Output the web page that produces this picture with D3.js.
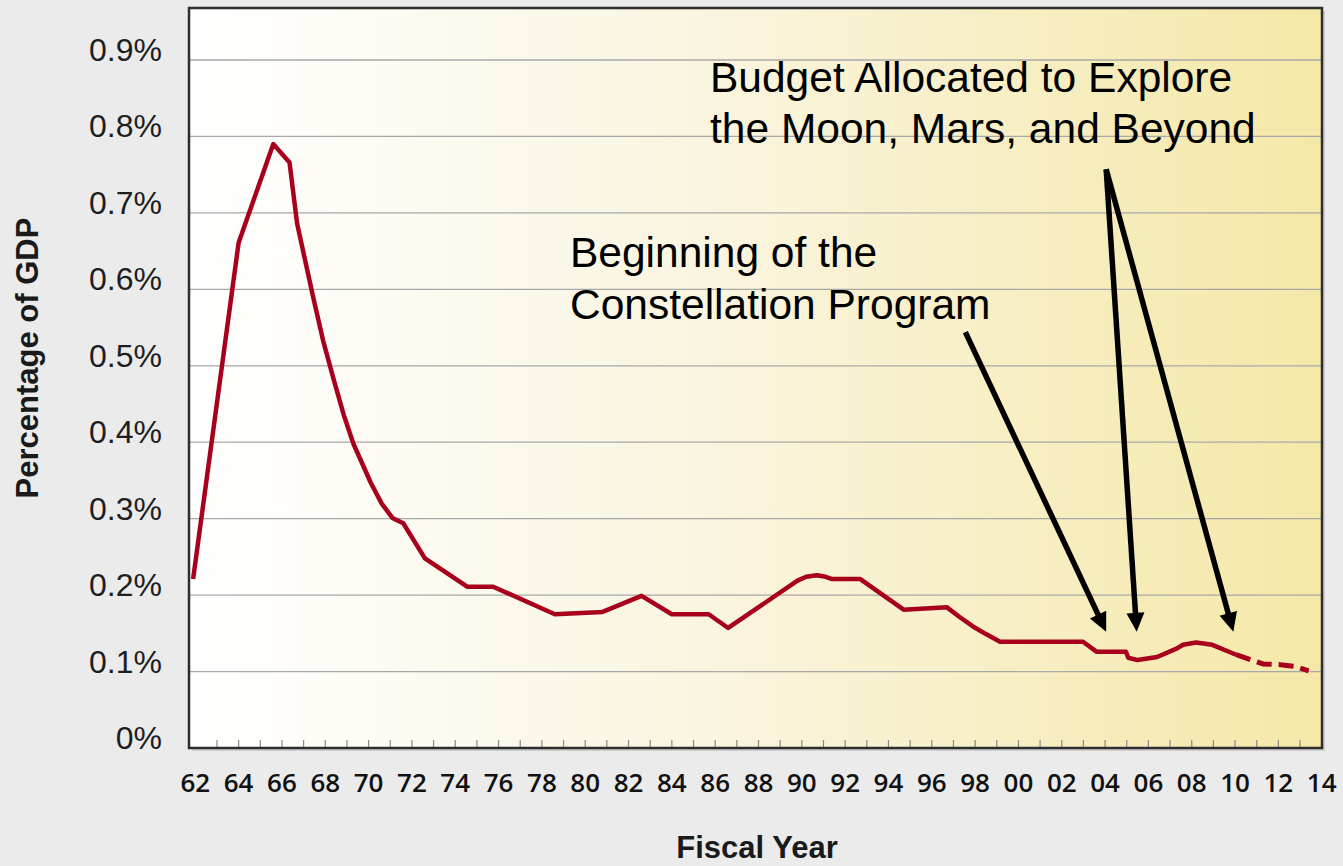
<!DOCTYPE html>
<html>
<head>
<meta charset="utf-8">
<script src="https://cdn.jsdelivr.net/npm/d3@7"></script>
<style>
  html, body { margin: 0; padding: 0; background: #ebebeb; }
  svg { display: block; }
</style>
</head>
<body>
<div id="chart"></div>
<script>
// fiscal years (fractional where the line bends between years) and % of GDP
var years = [1961.9, 1964.0, 1965.6, 1966.35, 1966.7, 1967.44, 1967.9, 1968.4, 1968.85, 1969.3,
  1970.1, 1970.6, 1971.1, 1971.6, 1972.6, 1974.55, 1975.75, 1978.6, 1980.8, 1982.6,
  1984.0, 1985.7, 1986.6, 1989.8, 1990.2, 1990.7, 1991.1, 1991.4, 1992.7, 1994.7,
  1996.7, 1997.3, 1997.9, 1998.5, 1999.15, 2002.98, 2003.6, 2004.96, 2005.07, 2005.5,
  2006.4, 2007.3, 2007.6, 2008.2, 2008.95, 2010.05];
var share = [0.221, 0.661, 0.790, 0.766, 0.686, 0.590, 0.533, 0.481, 0.436, 0.398,
  0.347, 0.320, 0.301, 0.294, 0.248, 0.211, 0.211, 0.175, 0.178, 0.199,
  0.175, 0.175, 0.157, 0.219, 0.224, 0.226, 0.224, 0.221, 0.221, 0.181,
  0.184, 0.171, 0.159, 0.149, 0.139, 0.139, 0.126, 0.126, 0.118, 0.115,
  0.119, 0.130, 0.135, 0.138, 0.135, 0.122];

// projected years, drawn dashed
var projYears = [2010.05, 2011.3, 2012.1, 2012.7, 2013.4];
var projShare = [0.122, 0.110, 0.109, 0.107, 0.101];

var yTicks = [0, 0.1, 0.2, 0.3, 0.4, 0.5, 0.6, 0.7, 0.8, 0.9];
var xLabelYears = d3.range(1962, 2015, 2);

// arrows: start and tip in data units
var arrows = [
  {x1: 1997.55, y1: 0.544, x2: 2004.05, y2: 0.152},
  {x1: 2004.05, y1: 0.757, x2: 2005.46, y2: 0.152},
  {x1: 2004.05, y1: 0.757, x2: 2009.92, y2: 0.152}
];

var width = 1343, height = 866;
var plotLeft = 189, plotRight = 1322, plotTop = 8, plotBottom = 748;

var x = d3.scaleLinear().domain([1962, 2014]).range([195.3, 1321.7]);
var y = d3.scaleLinear().domain([0, 0.9]).range([plotBottom, 60]);

var svg = d3.select('#chart').append('svg')
  .attr('width', width)
  .attr('height', height);

var grad = svg.append('defs').append('linearGradient')
  .attr('id', 'bg').attr('x1', '0%').attr('x2', '100%').attr('y1', '0%').attr('y2', '0%');
grad.append('stop').attr('offset', '0%').attr('stop-color', '#ffffff');
grad.append('stop').attr('offset', '45%').attr('stop-color', '#faf5e0');
grad.append('stop').attr('offset', '100%').attr('stop-color', '#f5e8a8');

// shadow + plot area
svg.append('rect')
  .attr('x', plotLeft + 3).attr('y', plotTop + 3)
  .attr('width', plotRight - plotLeft).attr('height', plotBottom - plotTop)
  .attr('fill', '#cfcfcf');
svg.append('rect')
  .attr('x', plotLeft).attr('y', plotTop)
  .attr('width', plotRight - plotLeft).attr('height', plotBottom - plotTop)
  .attr('fill', 'url(#bg)');

// gridlines
svg.append('g').selectAll('line')
  .data(yTicks.filter(function(d) { return d > 0; }))
  .enter().append('line')
  .attr('x1', plotLeft).attr('x2', plotRight)
  .attr('y1', function(d) { return y(d); })
  .attr('y2', function(d) { return y(d); })
  .attr('stroke', '#a8a8a8')
  .attr('stroke-width', 1.3);

// minor year ticks along the bottom, pointing up
svg.append('g').selectAll('line')
  .data(d3.range(1963, 2014))
  .enter().append('line')
  .attr('x1', function(d) { return x(d); })
  .attr('x2', function(d) { return x(d); })
  .attr('y1', plotBottom).attr('y2', plotBottom - 8)
  .attr('stroke', '#8a8a8a')
  .attr('stroke-width', 1.2);

// frame
svg.append('rect')
  .attr('x', plotLeft).attr('y', plotTop)
  .attr('width', plotRight - plotLeft).attr('height', plotBottom - plotTop)
  .attr('fill', 'none')
  .attr('stroke', '#2e2e2e')
  .attr('stroke-width', 2.5);

// y tick labels
svg.append('g').selectAll('text')
  .data(yTicks)
  .enter().append('text')
  .attr('x', 162)
  .attr('y', function(d) { return y(d) + 1; })
  .attr('text-anchor', 'end')
  .attr('font-family', 'Liberation Sans, Arial, sans-serif')
  .attr('font-size', 32)
  .attr('fill', '#1e1e1e')
  .text(function(d) { return d === 0 ? '0%' : d3.format('.1f')(d) + '%'; });

// x tick labels
svg.append('g').selectAll('text')
  .data(xLabelYears)
  .enter().append('text')
  .attr('x', function(d) { return x(d); })
  .attr('y', 792)
  .attr('text-anchor', 'middle')
  .attr('font-family', 'Open Sans, sans-serif')
  .attr('font-weight', 600)
  .attr('font-size', 26)
  .attr('fill', '#111')
  .text(function(d) { return String(d % 100).padStart(2, '0'); });

// axis titles
svg.append('text')
  .attr('x', 757).attr('y', 858)
  .attr('text-anchor', 'middle')
  .attr('font-family', 'Liberation Sans, Arial, sans-serif')
  .attr('font-weight', 'bold')
  .attr('font-size', 31)
  .attr('fill', '#1a1a1a')
  .text('Fiscal Year');

svg.append('text')
  .attr('transform', 'translate(38,358) rotate(-90)')
  .attr('text-anchor', 'middle')
  .attr('font-family', 'Liberation Sans, Arial, sans-serif')
  .attr('font-weight', 'bold')
  .attr('font-size', 31)
  .attr('fill', '#1a1a1a')
  .text('Percentage of GDP');

// the line
var line = d3.line()
  .x(function(d) { return x(d[0]); })
  .y(function(d) { return y(d[1]); });

svg.append('path')
  .datum(d3.zip(years, share))
  .attr('d', line)
  .attr('fill', 'none')
  .attr('stroke', '#a8001c')
  .attr('stroke-width', 4.5)
  .attr('stroke-linejoin', 'round');

svg.append('path')
  .datum(d3.zip(projYears, projShare))
  .attr('d', line)
  .attr('fill', 'none')
  .attr('stroke', '#a8001c')
  .attr('stroke-width', 5)
  .attr('stroke-dasharray', '15,7');

// annotation text
var notes = [
  {x: 710, y: 92, t: 'Budget Allocated to Explore'},
  {x: 710, y: 143, t: 'the Moon, Mars, and Beyond'},
  {x: 570, y: 267, t: 'Beginning of the'},
  {x: 570, y: 319, t: 'Constellation Program'}
];
svg.append('g').selectAll('text')
  .data(notes)
  .enter().append('text')
  .attr('x', function(d) { return d.x; })
  .attr('y', function(d) { return d.y; })
  .attr('font-family', 'Liberation Sans, Arial, sans-serif')
  .attr('font-size', 42.5)
  .attr('fill', '#000')
  .text(function(d) { return d.t; });

// arrows
var headLen = 19, headHalf = 9;
var ag = svg.append('g');
arrows.forEach(function(a) {
  var sx = x(a.x1), sy = y(a.y1), tx = x(a.x2), ty = y(a.y2);
  var dx = tx - sx, dy = ty - sy, len = Math.sqrt(dx * dx + dy * dy);
  var ux = dx / len, uy = dy / len;
  var bx = tx - ux * headLen, by = ty - uy * headLen;
  ag.append('line')
    .attr('x1', sx).attr('y1', sy)
    .attr('x2', bx + ux * 2).attr('y2', by + uy * 2)
    .attr('stroke', '#000')
    .attr('stroke-width', 5.5);
  ag.append('path')
    .attr('d', 'M' + tx + ',' + ty +
      'L' + (bx - uy * headHalf) + ',' + (by + ux * headHalf) +
      'L' + (bx + uy * headHalf) + ',' + (by - ux * headHalf) + 'Z')
    .attr('fill', '#000');
});
</script>
</body>
</html>
